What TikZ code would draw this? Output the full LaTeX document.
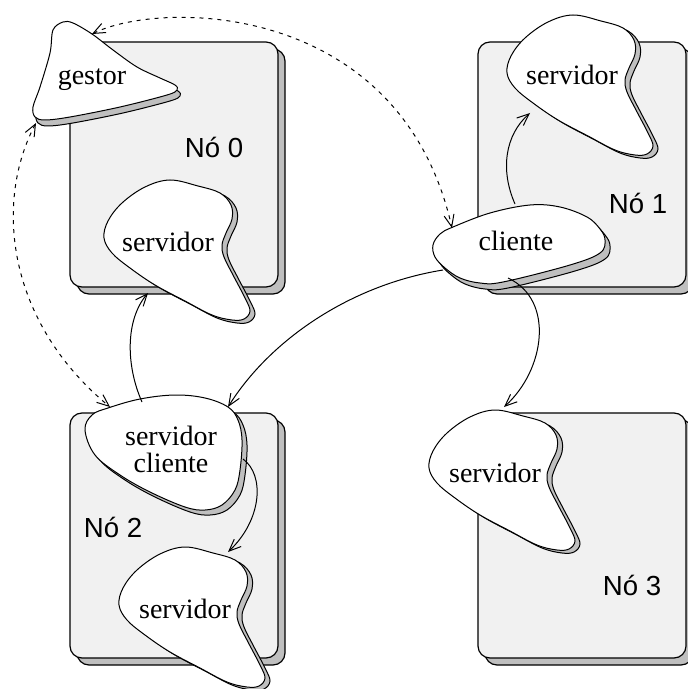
\documentclass[tikz,border=0pt]{standalone}
\usepackage{fontspec}
\setmainfont{Liberation Serif}
\newfontfamily\labelsans{Liberation Sans}
\usetikzlibrary{arrows.meta}
\definecolor{boxfill}{RGB}{241,241,241}
\definecolor{shadowgray}{RGB}{191,191,191}

% server blob: white shape with a grey drop shadow, centred at #1
\newcommand\servblob[1]{%
  \begin{scope}[shift={(#1)}]
    \path[blobshadow, shift={(5,3)}] plot[smooth cycle, tension=0.6] coordinates {
      (0,-63) (28,-57) (50,-50) (61,-38) (62,-24) (56,-10) (52,2) (54,14)
      (63,32) (75,55) (80,68) (74,76) (62,77) (42,72) (15,58) (-15,42)
      (-40,25) (-58,10) (-66,-5) (-62,-22) (-48,-40) (-25,-56)};
    \path[blobline] plot[smooth cycle, tension=0.6] coordinates {
      (0,-63) (28,-57) (50,-50) (61,-38) (62,-24) (56,-10) (52,2) (54,14)
      (63,32) (75,55) (80,68) (74,76) (62,77) (42,72) (15,58) (-15,42)
      (-40,25) (-58,10) (-66,-5) (-62,-22) (-48,-40) (-25,-56)};
  \end{scope}}

\begin{document}
\begin{tikzpicture}[x=0.5pt,y=-0.5pt,
  every node/.style={inner sep=0pt},
  nodebox/.style={draw=black, line width=0.6pt, fill=boxfill, rounded corners=6pt},
  boxshadow/.style={draw=black, line width=0.6pt, fill=shadowgray, rounded corners=6pt},
  blobline/.style={draw=black, line width=0.5pt, fill=white},
  blobshadow/.style={draw=black, line width=0.5pt, fill=shadowgray},
  proc/.style={font=\fontsize{14}{16}\selectfont, anchor=base},
  nodelabel/.style={font=\labelsans\fontsize{13.8}{16}\selectfont},
  link/.style={line width=0.5pt, -{Straight Barb[length=6pt,width=5pt]}},
  ctrl/.style={line width=0.5pt, dash pattern=on 2pt off 2.5pt,
    {Straight Barb[length=6pt,width=5pt]}-{Straight Barb[length=6pt,width=5pt]}},
]
\useasboundingbox (0,0) rectangle (688,689);
\clip (0,0) rectangle (688,689);

% machines
\foreach \bx/\by in {70/42, 478/42, 70/413, 478/413} {
  \path[boxshadow] (\bx+7,\by+7) rectangle (\bx+215,\by+252);
  \path[nodebox] (\bx,\by) rectangle (\bx+208,\by+245);
}
\node[nodelabel] (lab0) at (214,147) {Nó 0};
\node[nodelabel] (lab1) at (638,203) {Nó 1};
\node[nodelabel] (lab2) at (113,527) {Nó 2};
\node[nodelabel] (lab3) at (632,585) {Nó 3};

% gestor
\path[blobshadow, shift={(3,6)}] plot[smooth cycle, tension=0.55] coordinates {
  (53,30) (63,22) (73,23) (92,34) (113,50) (137,67) (160,78) (175,85)
  (177,90) (167,95) (120,107) (70,117) (45,120) (35,117) (33,107) (40,87) (50,53)};
\path[blobline] plot[smooth cycle, tension=0.55] coordinates {
  (53,30) (63,22) (73,23) (92,34) (113,50) (137,67) (160,78) (175,85)
  (177,90) (167,95) (120,107) (70,117) (45,120) (35,117) (33,107) (40,87) (50,53)};

% cliente
\path[blobshadow, shift={(5,6)}] plot[smooth cycle, tension=0.6] coordinates {
  (433,245) (440,234) (453,227) (490,213) (530,205) (560,207) (587,217)
  (600,229) (605,240) (600,253) (570,265) (503,282) (480,283) (460,278)
  (445,268) (435,257)};
\path[blobline] plot[smooth cycle, tension=0.6] coordinates {
  (433,245) (440,234) (453,227) (490,213) (530,205) (560,207) (587,217)
  (600,229) (605,240) (600,253) (570,265) (503,282) (480,283) (460,278)
  (445,268) (435,257)};

% servidor cliente
\path[blobshadow, shift={(5,5)}] plot[smooth cycle, tension=0.6] coordinates {
  (85,430) (92,415) (108,408) (140,399) (175,395) (205,398) (228,407)
  (238,420) (242,440) (240,470) (235,490) (222,505) (205,510) (185,507)
  (150,492) (120,475) (95,455)};
\path[blobline] plot[smooth cycle, tension=0.6] coordinates {
  (85,430) (92,415) (108,408) (140,399) (175,395) (205,398) (228,407)
  (238,420) (242,440) (240,470) (235,490) (222,505) (205,510) (185,507)
  (150,492) (120,475) (95,455)};

% servers
\servblob{170,243}
\servblob{573,78}
\servblob{495,473}
\servblob{185,610}

% process names
\node[proc] (g) at (92,85) {gestor};
\node[proc] (cl) at (516,251) {cliente};
\node[proc] (s0) at (168,252) {servidor};
\node[proc] (s1) at (572,85) {servidor};
\node[proc] (s3) at (495,482) {servidor};
\node[proc] (s2) at (185,618) {servidor};
\node[proc] (sc) at (171,445) {servidor};
\node[proc] (scb) at (171,472) {cliente};

% attachment points on the outlines
\coordinate (g-a) at (92,34);
\coordinate (g-b) at (36,123);
\coordinate (cl-a) at (452,228);
\coordinate (cl-b) at (443,270);
\coordinate (cl-c) at (515,204);
\coordinate (cl-d) at (508,278);
\coordinate (sc-a) at (110,407);
\coordinate (sc-b) at (142,402);
\coordinate (sc-c) at (228,407);
\coordinate (sc-d) at (243,459);
\coordinate (s0-a) at (148,293);
\coordinate (s1-a) at (530,113);
\coordinate (s3-a) at (504,407);
\coordinate (s2-a) at (228,552);

% control links
\draw[ctrl] (g-a) .. controls (160,0) and (400,0) .. (cl-a);
\draw[ctrl] (g-b) .. controls (-5,200) and (5,320) .. (sc-a);

% requests
\draw[link] (sc-b) .. controls (126,366) and (125,320) .. (s0-a);
\draw[link] (cl-b) .. controls (350,285) and (270,340) .. (sc-c);
\draw[link] (cl-c) .. controls (500,170) and (505,135) .. (s1-a);
\draw[link] (cl-d) .. controls (555,300) and (545,370) .. (s3-a);
\draw[link] (sc-d) .. controls (265,475) and (262,520) .. (s2-a);
\end{tikzpicture}
\end{document}
